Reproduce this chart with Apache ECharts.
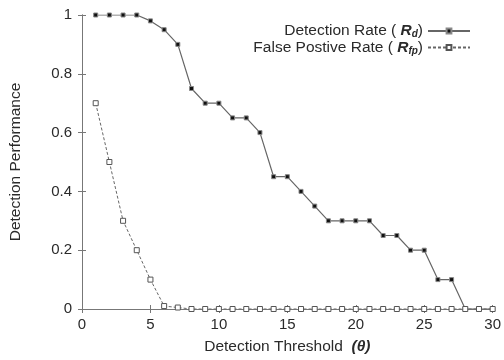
<!DOCTYPE html>
<html>
<head>
<meta charset="utf-8">
<script src="https://cdn.jsdelivr.net/npm/echarts@6/dist/echarts.min.js"></script>
<style>
  html, body { margin: 0; padding: 0; background: #fff; }
  #chart { width: 504px; height: 360px; }
</style>
</head>
<body>
<div id="chart"></div>
<script>
// data
const thresholds = [1, 2, 3, 4, 5, 6, 7, 8, 9, 10, 11, 12, 13, 14, 15,
  16, 17, 18, 19, 20, 21, 22, 23, 24, 25, 26, 27, 28, 29, 30]
const detectionRate = [1, 1, 1, 1, 0.98, 0.95, 0.9, 0.75, 0.7, 0.7, 0.65, 0.65, 0.6, 0.45, 0.45,
  0.4, 0.35, 0.3, 0.3, 0.3, 0.3, 0.25, 0.25, 0.2, 0.2, 0.1, 0.1, 0, 0, 0]
const falsePositive = [0.7, 0.5, 0.3, 0.2, 0.1, 0.01, 0.005, 0, 0, 0, 0, 0, 0, 0, 0,
  0, 0, 0, 0, 0, 0, 0, 0, 0, 0, 0, 0, 0, 0, 0]
const xTicks = [0, 5, 10, 15, 20, 25, 30]
const yTicks = [0, 0.2, 0.4, 0.6, 0.8, 1]

const font = 'Liberation Sans, Arial, sans-serif'
const axisGray = '#777'
const ink = '#2a2a2a'

const chart = echarts.init(document.getElementById('chart'))

const pairs = (ys) => thresholds.map((x, i) => [x, ys[i]])

// shared look of the frame axes
const frame = {
  axisLine: { show: true, lineStyle: { color: axisGray, width: 1 } },
  axisTick: { show: true, inside: true, length: 4, lineStyle: { color: axisGray } },
  splitLine: { show: false }
}

const option = {
  animation: false,
  textStyle: { fontFamily: font },
  grid: { left: 82, right: 9, top: 15, bottom: 48 },
  legend: {
    orient: 'vertical',
    right: 28,
    top: 18,
    align: 'right',
    itemGap: 0,
    itemWidth: 42,
    itemHeight: 6,
    textStyle: {
      fontFamily: font,
      fontSize: 15.5,
      color: ink,
      padding: [0, 0, 0, 0],
      rich: {
        r: { fontWeight: 'bold', fontStyle: 'italic', fontSize: 15.5, color: ink },
        s: { fontWeight: 'bold', fontStyle: 'italic', fontSize: 10, color: ink, verticalAlign: 'bottom', padding: [7, 0, 0, 0] }
      }
    },
    formatter: (name) => name === 'Rd'
      ? 'Detection Rate ( {r|R}{s|d})'
      : 'False Postive Rate ( {r|R}{s|fp})',
    data: ['Rd', 'Rfp']
  },
  xAxis: [{
    type: 'value',
    min: 0, max: 30, interval: 5,
    ...frame,
    axisLabel: { color: ink, fontSize: 15, margin: 8, fontFamily: font },
    name: 'Detection Threshold  {t|(θ)}',
    nameLocation: 'middle',
    nameGap: 30,
    nameTextStyle: {
      color: ink, fontSize: 15.5, fontFamily: font,
      rich: { t: { fontWeight: 'bold', fontStyle: 'italic', fontSize: 15.5, color: ink } }
    }
  }, {
    type: 'value', position: 'top',
    min: 0, max: 30, interval: 5,
    ...frame,
    axisLabel: { show: false }
  }],
  yAxis: [{
    type: 'value',
    min: 0, max: 1, interval: 0.2,
    ...frame,
    axisLabel: { color: ink, fontSize: 15, margin: 10, fontFamily: font },
    name: 'Detection Performance',
    nameLocation: 'middle',
    nameGap: 58,
    nameTextStyle: { color: ink, fontSize: 15.5, fontFamily: font }
  }, {
    type: 'value', position: 'right',
    min: 0, max: 1, interval: 0.2,
    ...frame,
    axisLabel: { show: false }
  }],
  series: [{
    name: 'Rd',
    type: 'line',
    data: pairs(detectionRate),
    symbol: 'rect',
    symbolSize: 4,
    itemStyle: { color: '#111', borderColor: '#888', borderWidth: 1 },
    lineStyle: { color: '#666', width: 1.2 }
  }, {
    name: 'Rfp',
    type: 'line',
    data: pairs(falsePositive),
    symbol: 'rect',
    symbolSize: 5,
    itemStyle: { color: '#fff', borderColor: '#555', borderWidth: 1 },
    lineStyle: { color: '#666', width: 1, type: [3, 2] },
    z: 3
  }]
}

chart.setOption(option)
</script>
</body>
</html>
